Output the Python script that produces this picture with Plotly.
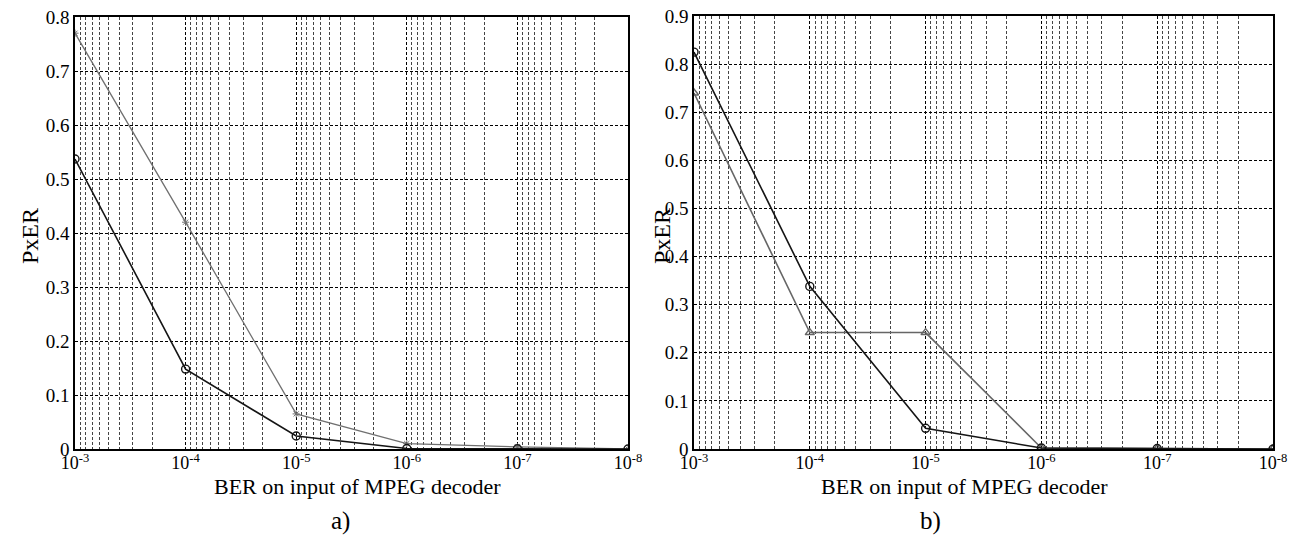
import plotly.graph_objects as go
from plotly.subplots import make_subplots

# --------------------------------------------------
# DATA
# --------------------------------------------------

ber = [1e-3, 1e-4, 1e-5, 1e-6, 1e-7, 1e-8]

a_circle = [0.537, 0.148, 0.024, 0.001, 0.0005, 0.0]
a_star = [0.770, 0.420, 0.065, 0.010, 0.004, 0.0]

b_circle = [0.825, 0.338, 0.043, 0.002, 0.001, 0.0]
b_triangle = [0.740, 0.242, 0.242, 0.002, 0.001, 0.0]

tick_vals = [1e-3, 1e-4, 1e-5, 1e-6, 1e-7, 1e-8]
tick_text = ["10<sup>-3</sup>", "10<sup>-4</sup>", "10<sup>-5</sup>",
             "10<sup>-6</sup>", "10<sup>-7</sup>", "10<sup>-8</sup>"]

FONT = "Liberation Serif"
DASH = "3px,2px"

# body margin is removed below, so the figure fills the page
W, H = 1299, 547


def px_x(x):
    return x / W


def px_y(y):
    return 1 - y / H


fig = make_subplots(rows=1, cols=2)

# --------------------------------------------------
# PANEL A
# --------------------------------------------------

fig.add_trace(go.Scatter(
    x=ber, y=a_star, mode="lines+markers",
    line=dict(color="#707070", width=1.3),
    marker=dict(symbol="asterisk-open", size=6, color="#707070",
                line=dict(color="#707070", width=1)),
    showlegend=False), row=1, col=1)

fig.add_trace(go.Scatter(
    x=ber, y=a_circle, mode="lines+markers",
    line=dict(color="#151515", width=1.6),
    marker=dict(symbol="circle-open", size=8, color="#151515",
                line=dict(color="#151515", width=1.4)),
    showlegend=False), row=1, col=1)

# --------------------------------------------------
# PANEL B
# --------------------------------------------------

fig.add_trace(go.Scatter(
    x=ber, y=b_triangle, mode="lines+markers",
    line=dict(color="#666666", width=1.6),
    marker=dict(symbol="triangle-up-open", size=8, color="#666666",
                line=dict(color="#666666", width=1.4)),
    showlegend=False), row=1, col=2)

fig.add_trace(go.Scatter(
    x=ber, y=b_circle, mode="lines+markers",
    line=dict(color="#151515", width=1.6),
    marker=dict(symbol="circle-open", size=8, color="#151515",
                line=dict(color="#151515", width=1.4)),
    showlegend=False), row=1, col=2)

# --------------------------------------------------
# AXES
# --------------------------------------------------

xaxis_style = dict(
    type="log",
    range=[-3, -8],
    tickvals=tick_vals,
    ticktext=tick_text,
    showgrid=True,
    gridcolor="black",
    griddash=DASH,
    gridwidth=1,
    minor=dict(dtick="D1", showgrid=True, gridcolor="#444444",
               griddash=DASH, gridwidth=1, ticks=""),
    showline=True,
    linecolor="black",
    linewidth=1.5,
    mirror=True,
    ticks="",
    ticklabelstandoff=-3,
    ticklabeloverflow="allow",
    zeroline=False,
    automargin=False,
    tickfont=dict(family=FONT, size=18, color="black"),
)

yaxis_style = dict(
    showgrid=True,
    gridcolor="black",
    griddash=DASH,
    gridwidth=1,
    showline=True,
    linecolor="black",
    linewidth=1.5,
    mirror=True,
    ticks="",
    ticklabeloverflow="allow",
    zeroline=False,
    automargin=False,
    dtick=0.1,
    tickformat=".1~f",
    tickfont=dict(family=FONT, size=19, color="black"),
)

fig.update_xaxes(**xaxis_style)
fig.update_yaxes(**yaxis_style)


def label(text, x, y, size=22, angle=0):
    return dict(text=text, x=px_x(x), y=px_y(y),
                xref="paper", yref="paper",
                xanchor="center", yanchor="middle",
                textangle=angle, showarrow=False,
                font=dict(family=FONT, size=size, color="black"))


fig.update_layout(
    xaxis=dict(domain=[px_x(75), px_x(628)]),
    xaxis2=dict(domain=[px_x(694), px_x(1273)]),
    yaxis=dict(domain=[px_y(449), px_y(17)], range=[0, 0.8]),
    yaxis2=dict(domain=[px_y(449), px_y(16)], range=[0, 0.9]),
    width=W,
    height=H,
    margin=dict(l=0, r=0, t=0, b=0),
    paper_bgcolor="white",
    plot_bgcolor="white",
    font=dict(family=FONT, color="black"),
    annotations=[
        label("BER on input of MPEG decoder", 357, 486),
        label("BER on input of MPEG decoder", 964, 486),
        label("PxER", 30, 236, size=24, angle=-90),
        label("PxER", 662, 236, size=24, angle=-90),
        label("a)", 340, 521, size=25),
        label("b)", 930, 521, size=25),
    ],
)

fig.write_html(
    "out.html",
    config={"displayModeBar": False},
    post_script="document.body.style.margin='0';"
                "document.body.style.overflow='hidden';"
)
